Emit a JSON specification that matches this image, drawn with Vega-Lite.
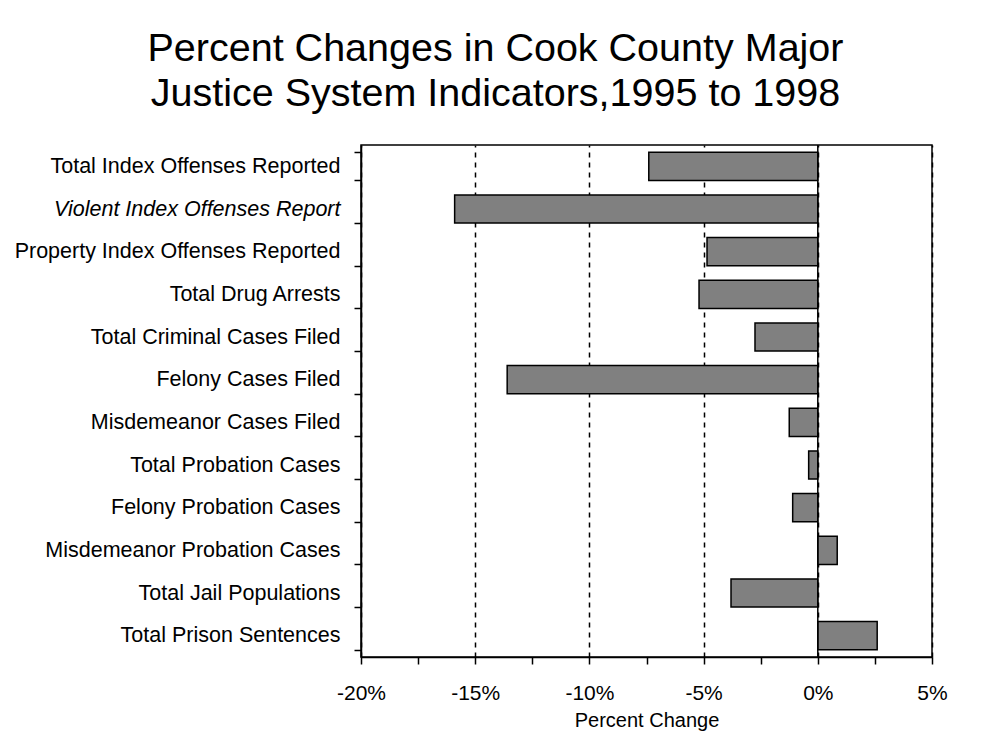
{
  "$schema": "https://vega.github.io/schema/vega-lite/v6.json",
  "width": 571,
  "height": 512,
  "autosize": {"type": "none"},
  "padding": {"left": 361, "top": 145, "right": 63, "bottom": 91},
  "background": "white",
  "title": {
    "text": ["Percent Changes in Cook County Major", "Justice System Indicators,1995 to 1998"],
    "font": "Liberation Sans",
    "fontSize": 39.5,
    "fontWeight": "normal",
    "lineHeight": 45,
    "color": "black",
    "anchor": "middle",
    "dx": -151,
    "offset": 20
  },
  "config": {
    "view": {"stroke": "black", "strokeWidth": 1.5},
    "axis": {
      "domainColor": "black",
      "domainWidth": 1.5,
      "tickColor": "black",
      "tickWidth": 1.5,
      "tickSize": 7,
      "labelColor": "black",
      "labelFont": "Liberation Sans",
      "titleFont": "Liberation Sans",
      "titleColor": "black"
    }
  },
  "layer": [
    {
      "data": {
        "values": [
          {"indicator": "Total Index Offenses Reported", "change": -7.4},
          {"indicator": "Violent Index Offenses Report", "change": -15.9},
          {"indicator": "Property Index Offenses Reported", "change": -4.85},
          {"indicator": "Total Drug Arrests", "change": -5.2},
          {"indicator": "Total Criminal Cases Filed", "change": -2.75},
          {"indicator": "Felony Cases Filed", "change": -13.6},
          {"indicator": "Misdemeanor Cases Filed", "change": -1.25},
          {"indicator": "Total Probation Cases", "change": -0.4},
          {"indicator": "Felony Probation Cases", "change": -1.1},
          {"indicator": "Misdemeanor Probation Cases", "change": 0.85},
          {"indicator": "Total Jail Populations", "change": -3.8},
          {"indicator": "Total Prison Sentences", "change": 2.6}
        ]
      },
      "mark": {"type": "bar", "fill": "#808080", "stroke": "black", "strokeWidth": 1.5},
      "encoding": {
        "y": {
          "field": "indicator",
          "type": "nominal",
          "sort": null,
          "scale": {"paddingInner": 0.34, "paddingOuter": 0.17},
          "axis": {
            "title": null,
            "tickBand": "extent",
            "labelFontSize": 21.5,
            "labelPadding": 14,
            "labelLimit": 400,
            "grid": false,
            "labelFontStyle": {"condition": {"test": "datum.value == 'Violent Index Offenses Report'", "value": "italic"}, "value": "normal"}
          }
        },
        "x": {
          "field": "change",
          "type": "quantitative",
          "scale": {"domain": [-20, 5], "nice": false, "zero": false},
          "axis": {
            "title": "Percent Change",
            "titleFontSize": 20,
            "titleFontWeight": "normal",
            "titlePadding": 7,
            "values": [-20, -17.5, -15, -12.5, -10, -7.5, -5, -2.5, 0, 2.5, 5],
            "labelExpr": "datum.value % 5 == 0 ? datum.value + '%' : ''",
            "labelFontSize": 21,
            "labelPadding": 18,
            "labelFlush": false,
            "labelOverlap": false,
            "labelBound": false,
            "grid": true,
            "gridColor": "black",
            "gridDash": [5, 5],
            "gridWidth": 1.5,
            "gridOpacity": {"condition": {"test": "datum.value % 5 != 0", "value": 0}, "value": 1}
          }
        }
      }
    },
    {
      "data": {"values": [{"zero": 0}]},
      "mark": {"type": "rule", "color": "black", "strokeWidth": 1.5},
      "encoding": {
        "x": {"field": "zero", "type": "quantitative", "axis": {"title": "Percent Change"}}
      }
    }
  ]
}
